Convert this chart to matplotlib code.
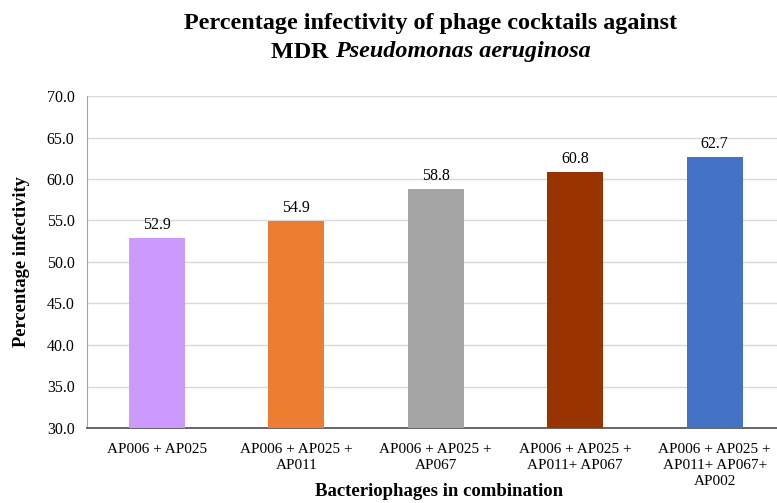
import matplotlib
matplotlib.use("Agg")
import matplotlib.pyplot as plt

categories = ["AP006 + AP025", "AP006 + AP025 +\nAP011", "AP006 + AP025 +\nAP067",
              "AP006 + AP025 +\nAP011+ AP067", "AP006 + AP025 +\nAP011+ AP067+\nAP002"]
values = [52.9, 54.9, 58.8, 60.8, 62.7]
colors = ["#CC99FF", "#ED7D31", "#A5A5A5", "#993300", "#4472C4"]
yticks = [30, 35, 40, 45, 50, 55, 60, 65, 70]

plt.rcParams['font.family'] = ['Liberation Serif', 'DejaVu Serif']

fig = plt.figure(figsize=(7.77, 5.03), dpi=100)
ax_left, ax_bottom_px, ax_top_px, ax_right = 87, 428, 96, 784.5
ax = fig.add_axes([ax_left/777, 1-ax_bottom_px/503, (ax_right-ax_left)/777,
                   (ax_bottom_px-ax_top_px)/503])
x = list(range(len(categories)))
ax.bar(x, values, width=0.4, color=colors, zorder=3)
for xi, v in zip(x, values):
    ax.text(xi, v + 0.6, f"{v:.1f}", ha="center", va="bottom", fontsize=11.5)
ax.set_xlim(-0.5, len(categories) - 0.5)
ax.set_ylim(30, 70)
ax.set_yticks(yticks)
ax.set_yticklabels([f"{t:.1f}" for t in yticks], fontsize=11.5)
ax.set_xticks(x)
ax.set_xticklabels(categories, fontsize=11, linespacing=1.3)
ax.yaxis.grid(True, color="#D9D9D9", linewidth=1, zorder=0)
ax.tick_params(axis="both", length=0, pad=9)
ax.tick_params(axis="x", pad=11)
for s in ["top", "right"]:
    ax.spines[s].set_visible(False)
ax.spines["left"].set_color("#A0A0A0")
ax.spines["bottom"].set_color("#595959")
ax.spines["bottom"].set_linewidth(1.3)
ax.set_ylabel("Percentage infectivity", fontsize=13.3, fontweight="bold", labelpad=12)
ax.set_xlabel("Bacteriophages in combination", fontsize=13.5, fontweight="bold")
ax.xaxis.label.set_va("center")
ax.xaxis.set_label_coords((439 - ax_left) / (ax_right - ax_left),
                          -(491 - ax_bottom_px) / (ax_bottom_px - ax_top_px))

title_size = 17.4
fig.text(431/777, 1-23/503, "Percentage infectivity of phage cocktails against", ha="center",
         va="center", fontsize=title_size, fontweight="bold")
renderer = fig.canvas.get_renderer()
t1 = fig.text(0, 1-52/503, "MDR ", ha="left", va="center", fontsize=title_size,
              fontweight="bold")
t2 = fig.text(0, 1-52/503, "Pseudomonas aeruginosa", ha="left", va="center",
              fontsize=title_size, fontweight="bold", fontstyle="italic")
w1 = t1.get_window_extent(renderer=renderer).width
w2 = t2.get_window_extent(renderer=renderer).width
x0 = 431 - (w1 + w2) / 2
t1.set_x(x0/777)
t2.set_x((x0 + w1)/777)
fig.savefig("out.png", dpi=100)
